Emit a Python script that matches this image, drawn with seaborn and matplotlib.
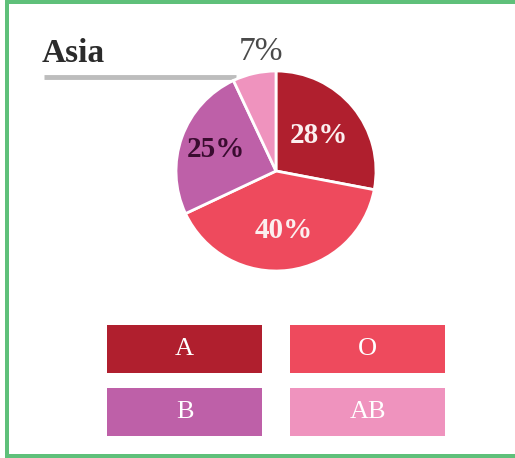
import matplotlib
matplotlib.use("Agg")
import numpy as np
import matplotlib.pyplot as plt
from matplotlib.patches import Rectangle
from matplotlib.lines import Line2D
import seaborn as sns

# Blood type distribution for Asia
region = "Asia"
blood_types = ["A", "O", "B", "AB"]
shares = [28, 40, 25, 7]
type_colors = ["#B01F2E", "#EE4A5D", "#BE60A8", "#EF93BE"]
label_colors = ["#FBEFEF", "#FBEFEF", "#3A0C30", "#4A4A4A"]
label_dist = [0.56, 0.60, 0.64]

sns.set_theme(style="white")
plt.rcParams["font.family"] = ["Liberation Serif", "DejaVu Serif"]
palette = sns.color_palette(type_colors)

W, H = 515, 458
fig = plt.figure(figsize=(W / 100, H / 100), dpi=100)
fig.patch.set_facecolor("white")

# background canvas in pixel coordinates
bg = fig.add_axes([0, 0, 1, 1])
bg.set_xlim(0, W)
bg.set_ylim(H, 0)
bg.axis("off")

# green frame (left, top, bottom)
green = "#5FC07A"
bg.add_patch(Rectangle((5, 0), 4, H, color=green, lw=0))
bg.add_patch(Rectangle((5, 0), W - 5, 4, color=green, lw=0))
bg.add_patch(Rectangle((5, 454), W - 5, 4, color=green, lw=0))

# region title with underline
bg.text(42, 53, region, fontsize=24, fontweight="bold", color="#2b2b2b",
        ha="left", va="center")
bg.add_line(Line2D([44, 236], [77, 77], color="#BDBDBD", lw=3.5,
                   solid_capstyle="butt"))

# pie
cx, cy, r = 276, 171, 100
pax = fig.add_axes([(cx - r) / W, (H - cy - r) / H, 2 * r / W, 2 * r / H])
wedges, texts = pax.pie(
    shares, colors=palette, startangle=90, counterclock=False,
    wedgeprops=dict(edgecolor="white", linewidth=2),
)
pax.set_xlim(-1, 1)
pax.set_ylim(-1, 1)
pax.set_aspect("equal")
pax.axis("off")

# percentage labels inside the larger slices
for w, share, col, d in zip(wedges[:3], shares[:3], label_colors, label_dist):
    ang = np.deg2rad((w.theta1 + w.theta2) / 2)
    pax.text(d * np.cos(ang), d * np.sin(ang), f"{share}%", fontsize=21,
             fontweight="bold", color=col, ha="center", va="center")

# small slice label placed above the pie
bg.text(261, 52, f"{shares[3]}%", fontsize=24, color=label_colors[3],
        ha="center", va="center")

# legend boxes
boxes = [(107, 325), (290, 325), (107, 388), (290, 388)]
bw, bh = 155, 48
for (x, y), name, col in zip(boxes, blood_types, palette):
    bg.add_patch(Rectangle((x, y), bw, bh, color=col, lw=0))
    bg.text(x + bw / 2, y + bh / 2, name, fontsize=19, color="white",
            ha="center", va="center")

fig.savefig("out.png", dpi=100)
